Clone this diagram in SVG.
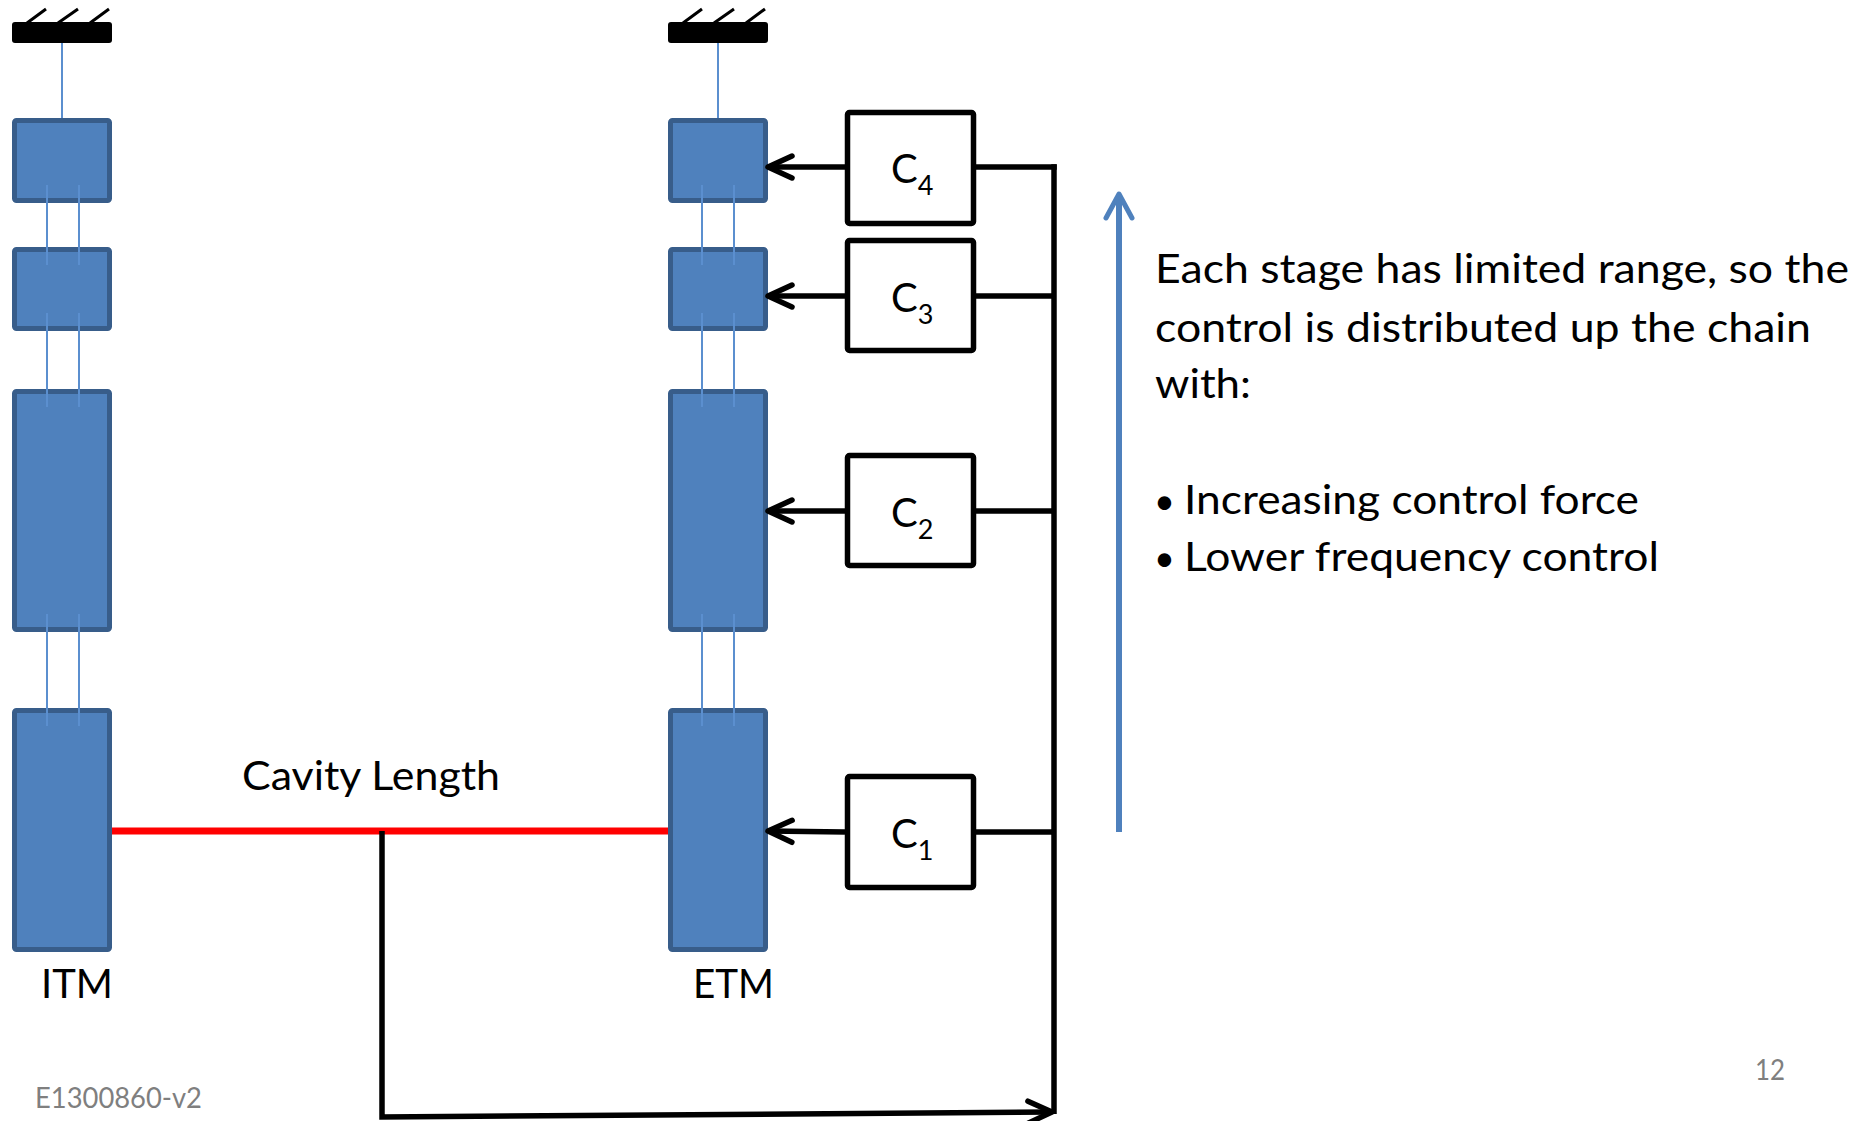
<svg xmlns="http://www.w3.org/2000/svg" width="1862" height="1121" viewBox="0 0 1862 1121">
<style>
.mass{fill:#4F81BD;stroke:#385D8A;stroke-width:5}
.bar{fill:#000}
.hatch{stroke:#000;stroke-width:3;fill:none}
.wire{stroke:#5B8FCF;stroke-width:2;fill:none}
.ctl{fill:#fff;stroke:#000;stroke-width:5.5}
.ln{stroke:#000;stroke-width:5.5;fill:none}
.t{font-family:Lato,"Open Sans","Liberation Sans",sans-serif;fill:#000}
.g{font-family:Lato,"Open Sans","Liberation Sans",sans-serif;fill:#7F7F7F}
</style>
<defs>
<marker id="chev" viewBox="-30 -16 34 32" refX="0" refY="0" markerWidth="34" markerHeight="32" markerUnits="userSpaceOnUse" orient="auto">
<path d="M-24,-11 L0,0 L-24,11" fill="none" stroke="#000" stroke-width="5.5" stroke-linecap="round" stroke-linejoin="round"/>
</marker>
</defs>

<g id="itm">
<rect class="bar" x="12" y="22" width="100" height="21" rx="3"/>
<path class="hatch" d="M27,23 L46,9 M58,23 L78,9 M90,23 L109,9"/>
<line class="wire" x1="62" y1="43" x2="62" y2="119"/>
<rect class="mass" x="14.5" y="120.5" width="95" height="80" rx="2"/>
<rect class="mass" x="14.5" y="249.5" width="95" height="79" rx="2"/>
<rect class="mass" x="14.5" y="391.5" width="95" height="238" rx="2"/>
<rect class="mass" x="14.5" y="710.5" width="95" height="239" rx="2"/>
<path class="wire" d="M47,185 V265 M79,185 V265 M47,313 V407 M79,313 V407 M47,614 V726 M79,614 V726"/>
<text class="t" x="41" y="998" font-size="40" textLength="72" lengthAdjust="spacingAndGlyphs">ITM</text>
</g>

<g id="etm">
<rect class="bar" x="668" y="22" width="100" height="21" rx="3"/>
<path class="hatch" d="M683,23 L702,9 M714,23 L734,9 M746,23 L765,9"/>
<line class="wire" x1="718" y1="43" x2="718" y2="119"/>
<rect class="mass" x="670.5" y="120.5" width="95" height="80" rx="2"/>
<rect class="mass" x="670.5" y="249.5" width="95" height="79" rx="2"/>
<rect class="mass" x="670.5" y="391.5" width="95" height="238" rx="2"/>
<rect class="mass" x="670.5" y="710.5" width="95" height="239" rx="2"/>
<path class="wire" d="M702,185 V265 M734,185 V265 M702,313 V407 M734,313 V407 M702,614 V726 M734,614 V726"/>
<text class="t" x="693" y="998" font-size="40" textLength="81" lengthAdjust="spacingAndGlyphs">ETM</text>
</g>

<g id="c4">
<rect class="ctl" x="847.5" y="112.5" width="126" height="111" rx="2"/>
<text class="t" x="891" y="183" font-size="40">C<tspan font-size="27" dy="12">4</tspan></text>
</g>
<g id="c3">
<rect class="ctl" x="847.5" y="240.5" width="126" height="110" rx="2"/>
<text class="t" x="891" y="312" font-size="40">C<tspan font-size="27" dy="12">3</tspan></text>
</g>
<g id="c2">
<rect class="ctl" x="847.5" y="455.5" width="126" height="110" rx="2"/>
<text class="t" x="891" y="527" font-size="40">C<tspan font-size="27" dy="12">2</tspan></text>
</g>
<g id="c1">
<rect class="ctl" x="847.5" y="776.5" width="126" height="111" rx="2"/>
<text class="t" x="891" y="848" font-size="40">C<tspan font-size="27" dy="12">1</tspan></text>
</g>

<g id="cavity">
<line x1="112" y1="831" x2="668" y2="831" stroke="#FF0000" stroke-width="7"/>
<text class="t" x="242" y="790" font-size="40" textLength="258" lengthAdjust="spacingAndGlyphs">Cavity Length</text>
</g>

<g id="connectors">
<line class="ln" x1="845" y1="167" x2="768" y2="167" marker-end="url(#chev)"/>
<line class="ln" x1="845" y1="296" x2="768" y2="296" marker-end="url(#chev)"/>
<line class="ln" x1="845" y1="511" x2="768" y2="511" marker-end="url(#chev)"/>
<line class="ln" x1="845" y1="832" x2="768" y2="831" marker-end="url(#chev)"/>
<path class="ln" d="M976,167 H1056.75 M976,296 H1054 M976,511 H1054 M976,832 H1054"/>
<line class="ln" x1="1054" y1="164.25" x2="1054" y2="1114"/>
<polyline class="ln" points="382,831 382,1117 1052,1112" marker-end="url(#chev)"/>
</g>

<g id="direction">
<line x1="1119" y1="832" x2="1119" y2="196" stroke="#4F81BD" stroke-width="6"/>
<path d="M1106,218 L1119,194 L1132,218" fill="none" stroke="#4F81BD" stroke-width="5" stroke-linecap="round" stroke-linejoin="round"/>
</g>

<g id="notes">
<text class="t" x="1155" y="283" font-size="40" textLength="694" lengthAdjust="spacingAndGlyphs">Each stage has limited range, so the</text>
<text class="t" x="1155" y="342" font-size="40" textLength="656" lengthAdjust="spacingAndGlyphs">control is distributed up the chain</text>
<text class="t" x="1155" y="398" font-size="40" textLength="96" lengthAdjust="spacingAndGlyphs">with:</text>
<text class="t" x="1154" y="514" font-size="36">•</text>
<text class="t" x="1184" y="514" font-size="40" textLength="455" lengthAdjust="spacingAndGlyphs">Increasing control force</text>
<text class="t" x="1154" y="571" font-size="36">•</text>
<text class="t" x="1184" y="571" font-size="40" textLength="475" lengthAdjust="spacingAndGlyphs">Lower frequency control</text>
</g>

<g id="footer">
<text class="g" x="35" y="1108" font-size="28" textLength="167" lengthAdjust="spacingAndGlyphs">E1300860-v2</text>
<text class="g" x="1755" y="1080" font-size="28" textLength="30" lengthAdjust="spacingAndGlyphs">12</text>
</g>
</svg>
